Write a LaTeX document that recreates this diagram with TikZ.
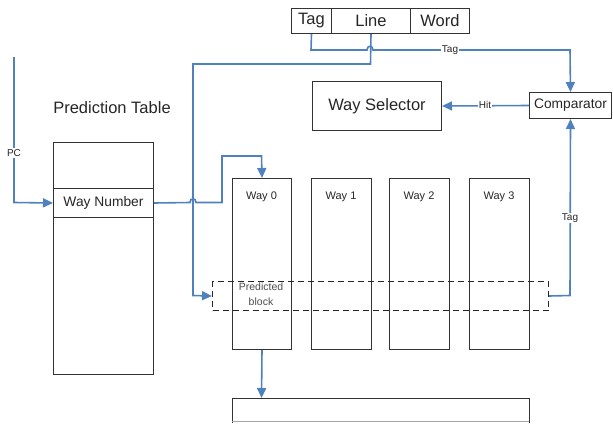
\documentclass[tikz,border=0pt]{standalone}
\usepackage{fontspec}
\setmainfont{Liberation Sans}
\usetikzlibrary{arrows.meta}
\definecolor{wireblue}{RGB}{79,129,189}
\begin{document}
\begin{tikzpicture}[x=1pt,y=-1pt,
  box/.style={draw=black!80, line width=1pt, inner sep=0pt, anchor=north west, text=black!85},
  wire/.style={draw=wireblue, line width=1.6pt, line join=miter,
    -{Triangle[length=10pt,width=9pt]}},
  tagtext/.style={font=\fontsize{10}{12}\selectfont, fill=white, inner sep=1pt, text=black!85},
  waytext/.style={font=\fontsize{11}{13}\selectfont, text=black!85}
]
\useasboundingbox (0,0) rectangle (613,423);

% address fields
\node[box, minimum width=40pt, minimum height=25pt, font=\fontsize{16.5}{18}\selectfont] (tag) at (291,8) {Tag};
\node[box, minimum width=79pt, minimum height=25pt, font=\fontsize{16.5}{18}\selectfont] (line) at (331,8) {Line};
\node[box, minimum width=59pt, minimum height=25pt, font=\fontsize{16.5}{18}\selectfont] (word) at (410,8) {Word};

% way selector and comparator
\node[box, minimum width=129pt, minimum height=49pt, font=\fontsize{16.5}{18}\selectfont] (ws) at (312,81) {Way Selector};
\node[box, minimum width=82pt, minimum height=26pt, font=\fontsize{13.8}{16}\selectfont] (comp) at (529,92) {Comparator};

% prediction table
\node[font=\fontsize{16.5}{18}\selectfont, text=black!85] (pttitle) at (112,108) {Prediction Table};
\node[box, minimum width=100pt, minimum height=232pt] (pt) at (53,142) {};
\node[box, minimum width=100pt, minimum height=29pt, font=\fontsize{13.8}{16}\selectfont] (waynum) at (53,188) {Way Number};

% cache ways
\node[box, minimum width=59pt, minimum height=171pt] (way0) at (232,178) {};
\node[box, minimum width=60pt, minimum height=171pt] (way1) at (311,178) {};
\node[box, minimum width=60pt, minimum height=171pt] (way2) at (389,178) {};
\node[box, minimum width=60pt, minimum height=171pt] (way3) at (469,178) {};
\node[waytext] at (261.5,197) {Way 0};
\node[waytext] at (341,197) {Way 1};
\node[waytext] at (419,197) {Way 2};
\node[waytext] at (499,197) {Way 3};

% predicted block (dashed)
\node[box, draw=black!85, dashed, dash pattern=on 6pt off 4pt, minimum width=336pt, minimum height=29pt] (pred) at (212,281) {};
\node[font=\fontsize{10.5}{15}\selectfont, text=black!70, align=center, inner sep=0pt] (predtext) at (261,294.5) {Predicted\\block};

% output box
\coordinate (outnw) at (232,398);
\draw[draw=black!80, line width=1pt] (232,423) -- (outnw) -- (529,398) -- (529,423);
\draw[draw=black!35, line width=1pt] (232,421.5) -- (529,421.5);
\coordinate (outtop) at (261.5,398);

% tag field to comparator
\draw[wire] (tag.south) -- (311,50) -- (367,50)
  .. controls (367,45) and (373,45) .. (373,50) -- (570,50) -- (comp.north);
\node[tagtext] at (450,50) {Tag};

% line field to predicted block
\draw[wire] (line.south) -- (370.5,64) -- (193,64) -- (193,295.5) -- (pred.west);

% PC into the prediction table
\coordinate (pcin) at (14,57);
\draw[wire] (pcin) -- (14,202.5) -- (waynum.west);
\node[tagtext] at (14,153) {PC};

% way number to way 0
\draw[wire] (waynum.east) -- (190,202.5)
  .. controls (190,197.5) and (196,197.5) .. (196,202.5) -- (222,202.5)
  -- (222,156) -- (261.5,156) -- (way0.north);

% comparator hit
\draw[wire] (comp.west) -- (ws.east);
\node[tagtext] at (485,105) {Hit};

% predicted block tag to comparator
\draw[wire] (pred.east) -- (570,295.5) -- (comp.south);
\node[tagtext] at (570,218) {Tag};

% way 0 out
\draw[wire] (way0.south) -- (outtop);
\end{tikzpicture}
\end{document}
